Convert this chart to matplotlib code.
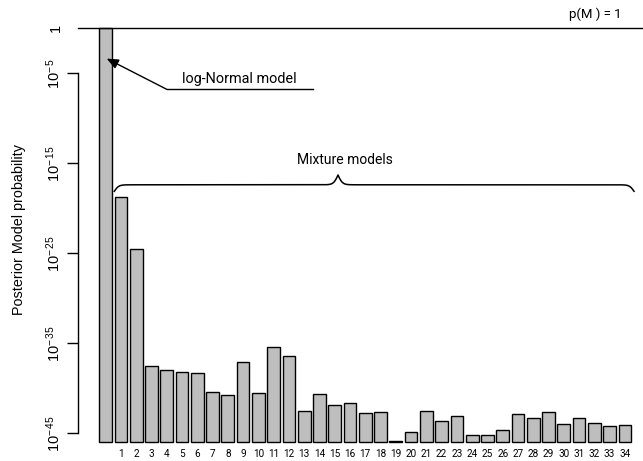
import numpy as np
import matplotlib
matplotlib.use("Agg")
import matplotlib.pyplot as plt
from matplotlib.ticker import FixedLocator

plt.rcParams["mathtext.fontset"] = "custom"
plt.rcParams["mathtext.rm"] = "Liberation Sans"
plt.rcParams["mathtext.it"] = "Liberation Sans:italic"

# ---- data (log10 of posterior model probability) ----
bar_labels = [""] + [str(i) for i in range(1, 35)]
log10_prob = [0.0, -18.7, -24.5, -37.55, -38.0, -38.2, -38.25, -40.4, -40.7, -37.1,
              -40.5, -35.4, -36.45, -42.5, -40.6, -41.8, -41.65, -42.7, -42.65, -45.85,
              -44.9, -42.55, -43.6, -43.1, -45.2, -45.15, -44.6, -42.8, -43.3, -42.65,
              -44.0, -43.3, -43.9, -44.2, -44.05]
ytick_exps = [-45, -35, -25, -15, -5]
ylow_exp = -46
prob = 10.0 ** np.array(log10_prob)

# ---- layout (pixels) ----
W, H = 643, 461
fig = plt.figure(figsize=(W / 100, H / 100), dpi=100)
ax_left_px, ax_bottom_px = 78.0, 442.3
ax = fig.add_axes([ax_left_px / W, (H - ax_bottom_px) / H, (W - ax_left_px) / W, ax_bottom_px / H])

pitch_px = 15.27
bar0_center_px = 105.7
px_per_dec = 9.0
xlim = (-(bar0_center_px - ax_left_px) / pitch_px, (W - bar0_center_px) / pitch_px)
ytop_exp = ylow_exp + ax_bottom_px / px_per_dec
ax.set_xlim(*xlim)
ax.set_yscale("log")
ax.set_ylim(10.0 ** ylow_exp, 10.0 ** ytop_exp)

x = np.arange(len(prob))
base = 10.0 ** ylow_exp
ax.bar(x, prob - base, bottom=base, width=0.8333, color="#bebebe",
       edgecolor="black", linewidth=1.0, clip_on=False)

for s in ["top", "right", "bottom"]:
    ax.spines[s].set_visible(False)
ax.spines["left"].set_bounds(10.0 ** -45, 10.0 ** -5)
ax.spines["left"].set_linewidth(1.0)

# y ticks
ticks = [10.0 ** e for e in ytick_exps] + [1.0]
labels = [r"$10^{-\,%d}$" % (-e) for e in ytick_exps] + ["1"]
ax.yaxis.set_major_locator(FixedLocator(ticks))
ax.yaxis.set_minor_locator(FixedLocator([]))
ax.set_yticklabels(labels)
ax.tick_params(axis="y", length=8, width=1.0, pad=3, labelsize=10.5, direction="out")
for lab in ax.get_yticklabels():
    lab.set_rotation(90)
    lab.set_va("center")
    lab.set_family("Liberation Sans")
for t in ax.yaxis.get_major_ticks():
    if abs(np.log10(t.get_loc())) < 1e-9:
        t.tick1line.set_visible(False)

# x labels
ax.set_xticks(x[1:])
ax.set_xticklabels(bar_labels[1:], fontsize=7.2, family="Roboto")
ax.tick_params(axis="x", length=0, pad=4.5)

# y axis title
fig.text(19 / W, 1 - 229 / H, "Posterior Model probability", rotation=90,
         ha="center", va="center", fontsize=10.4, family="Liberation Sans")

# p(M)=1 line
ax.axhline(1.0, color="black", lw=1.0, clip_on=False)
ax.text(33.79, 10 ** 1.52, "p(M ) = 1", ha="right", va="center", fontsize=9.5, family="Roboto")

# helpers px -> data
def dx(px):
    return (px - bar0_center_px) / pitch_px

def dy(py):
    return 10 ** (-(py - 28.7) / px_per_dec)

# log-Normal annotation
ax.annotate("", xy=(dx(106.7), dy(59)), xytext=(dx(166.7), dy(89.7)),
            arrowprops=dict(arrowstyle="-|>,head_length=0.7,head_width=0.3",
                            color="black", lw=1.0, shrinkA=0, shrinkB=0))
ax.plot([dx(166.7), dx(312.7)], [dy(89.7), dy(89.7)], color="black", lw=1.0)
ax.text(dx(239.7), dy(79), "log-Normal model", ha="center", va="center",
        fontsize=10.4, family="Roboto")

# Mixture models brace
def half_brace(xa, xb, n=200, beta=0.45):
    t = np.linspace(0, xb - xa, n)
    L = t[-1]
    s1 = 1 / (1 + np.exp(-beta * (t - 0)))
    s2 = 1 / (1 + np.exp(-beta * (t - L)))
    return t, s1, s2

x0p, xmp, x1p = 114.3, 338.0, 634.0
yend, yline, ycusp = 191.7, 185.2, 175.4
tl, a1, b1 = half_brace(x0p, xmp)
yl_px = yend - (a1 - 0.5) * 2 * (yend - yline) - b1 * 2 * (yline - ycusp)
xl_px = x0p + tl
tr, a2, b2 = half_brace(xmp, x1p)
yr_px = yend - (a2[::-1] - 0.5) * 2 * (yend - yline) - b2[::-1] * 2 * (yline - ycusp)
xr_px = xmp + tr
xs = np.concatenate([xl_px, xr_px])
ys = np.concatenate([yl_px, yr_px])
ax.plot(dx(xs), dy(ys), color="black", lw=1.1, clip_on=False)
ax.text(dx(345), dy(160.6), "Mixture models", ha="center", va="center",
        fontsize=10, family="Roboto")

fig.savefig("out.png", dpi=100)
